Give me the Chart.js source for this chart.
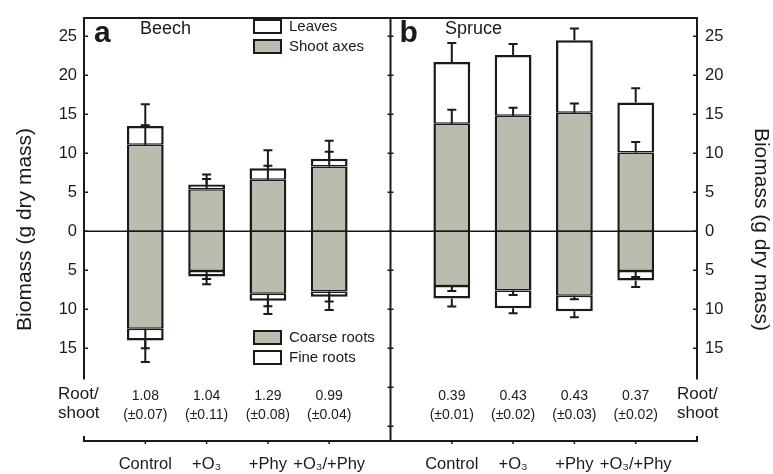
<!DOCTYPE html>
<html>
<head>
<meta charset="utf-8">
<script src="https://cdn.jsdelivr.net/npm/chart.js@4.4.0/dist/chart.umd.min.js"></script>
<style>
  html, body { margin: 0; padding: 0; background: #fff; }
  #wrap { width: 773px; height: 474px; }
</style>
</head>
<body>
<div id="wrap"><canvas id="chart" width="773" height="474"></canvas></div>
<script>
const treatments = ["Control", "+O₃", "+Phy", "+O₃/+Phy"];

// panel a, beech
const beechShoot = [11.1, 5.4, 6.6, 8.3];
const beechLeaves = [2.4, 0.6, 1.5, 1.0];
const beechCoarse = [-12.5, -5.1, -8.0, -7.7];
const beechFine = [-1.5, -0.7, -0.9, -0.7];
const beechShootErr = [2.5, 1.3, 1.8, 1.9];
const beechTotalErr = [2.8, 1.3, 2.3, 2.3];
const beechCoarseErr = [2.5, 1.0, 1.6, 1.3];
const beechRootErr = [2.75, 1.0, 1.7, 1.7];
const beechRatio = ["1.08", "1.04", "1.29", "0.99"];
const beechRatioSE = ["(±0.07)", "(±0.11)", "(±0.08)", "(±0.04)"];

// panel b, spruce
const spruceShoot = [13.8, 14.8, 15.2, 10.1];
const spruceLeaves = [7.9, 7.8, 9.3, 6.4];
const spruceCoarse = [-7.0, -7.6, -8.25, -5.1];
const spruceFine = [-1.6, -2.25, -2.0, -1.2];
const spruceShootErr = [1.8, 1.05, 1.2, 1.35];
const spruceTotalErr = [2.45, 1.4, 1.5, 1.85];
const spruceCoarseErr = [0.65, 0.55, 0.45, 0.75];
const spruceRootErr = [1.05, 0.65, 0.75, 0.85];
const spruceRatio = ["0.39", "0.43", "0.43", "0.37"];
const spruceRatioSE = ["(±0.01)", "(±0.02)", "(±0.03)", "(±0.02)"];

const xPos = [1, 2, 3, 4, 6, 7, 8, 9];
const yTicks = [-15, -10, -5, 0, 5, 10, 15, 20, 25];
const dividerTicks = [-25, -20, -15, -10, -5, 0, 5, 10, 15, 20, 25];

const GRAY = "#bbbbae";
const INK = "#1a1a1a";
const FONT = "'Liberation Sans', Arial, sans-serif";

Chart.defaults.font.family = FONT;
Chart.defaults.color = INK;

function pts(a, b) {
  return a.concat(b).map((v, i) => ({ x: xPos[i], y: v }));
}

function tickLabel(v) {
  const i = v < 5 ? v - 1 : v - 6;
  return treatments[i] || "";
}

const shootAll = beechShoot.concat(spruceShoot);
const leavesAll = beechLeaves.concat(spruceLeaves);
const coarseAll = beechCoarse.concat(spruceCoarse);
const fineAll = beechFine.concat(spruceFine);
const shootErrAll = beechShootErr.concat(spruceShootErr);
const totalErrAll = beechTotalErr.concat(spruceTotalErr);
const coarseErrAll = beechCoarseErr.concat(spruceCoarseErr);
const rootErrAll = beechRootErr.concat(spruceRootErr);

const decor = {
  id: "decor",
  afterDatasetsDraw(chart) {
    const { ctx, chartArea: area, scales: { x, y } } = chart;
    ctx.save();
    ctx.strokeStyle = INK;
    ctx.lineCap = "butt";

    // zero line
    ctx.lineWidth = 1.5;
    ctx.beginPath();
    ctx.moveTo(area.left, y.getPixelForValue(0));
    ctx.lineTo(area.right, y.getPixelForValue(0));
    ctx.stroke();

    // error bars
    ctx.lineWidth = 2;
    function errBar(px, from, to) {
      const a = y.getPixelForValue(from), b = y.getPixelForValue(to);
      ctx.beginPath();
      ctx.moveTo(px, a); ctx.lineTo(px, b);
      ctx.moveTo(px - 4.5, b); ctx.lineTo(px + 4.5, b);
      ctx.stroke();
    }
    xPos.forEach((xv, i) => {
      const px = x.getPixelForValue(xv);
      const top = shootAll[i] + leavesAll[i];
      const bot = coarseAll[i] + fineAll[i];
      errBar(px, shootAll[i], shootAll[i] + shootErrAll[i]);
      errBar(px, top, top + totalErrAll[i]);
      errBar(px, coarseAll[i], coarseAll[i] - coarseErrAll[i]);
      errBar(px, bot, bot - rootErrAll[i]);
    });

    // frame
    const mid = x.getPixelForValue(5);
    const frameEnd = y.getPixelForValue(-19);
    ctx.lineWidth = 2;
    ctx.beginPath();
    ctx.moveTo(area.left, frameEnd);
    ctx.lineTo(area.left, area.top);
    ctx.lineTo(area.right, area.top);
    ctx.lineTo(area.right, frameEnd);
    ctx.moveTo(mid, area.top);
    ctx.lineTo(mid, area.bottom);
    ctx.moveTo(area.left, area.bottom - 5);
    ctx.lineTo(area.left, area.bottom);
    ctx.lineTo(area.right, area.bottom);
    ctx.lineTo(area.right, area.bottom - 5);
    ctx.stroke();

    // tick marks
    ctx.lineWidth = 1.5;
    ctx.beginPath();
    yTicks.forEach(v => {
      const py = y.getPixelForValue(v);
      ctx.moveTo(area.left, py); ctx.lineTo(area.left + 4, py);
      ctx.moveTo(area.right, py); ctx.lineTo(area.right - 4, py);
    });
    dividerTicks.forEach(v => {
      const py = y.getPixelForValue(v);
      ctx.moveTo(mid - 3, py); ctx.lineTo(mid + 3, py);
    });
    xPos.forEach(v => {
      const px = x.getPixelForValue(v);
      ctx.moveTo(px, area.bottom); ctx.lineTo(px, area.bottom + 3);
    });
    ctx.stroke();

    // legends
    function box(bx, by, fill, label) {
      ctx.fillStyle = fill;
      ctx.fillRect(bx, by, 27, 13);
      ctx.lineWidth = 2;
      ctx.strokeRect(bx, by, 27, 13);
      ctx.fillStyle = INK;
      ctx.font = "15px " + FONT;
      ctx.textAlign = "left";
      ctx.textBaseline = "middle";
      ctx.fillText(label, bx + 35, by + 7);
    }
    box(254, 20, "#ffffff", "Leaves");
    box(254, 40, GRAY, "Shoot axes");
    box(254, 331, GRAY, "Coarse roots");
    box(254, 351, "#ffffff", "Fine roots");

    // panel letters and names
    ctx.fillStyle = INK;
    ctx.textAlign = "left";
    ctx.textBaseline = "alphabetic";
    ctx.font = "bold 30px " + FONT;
    ctx.fillText("a", area.left + 10, 42);
    ctx.fillText("b", mid + 9, 42);
    ctx.font = "18px " + FONT;
    ctx.fillText("Beech", 140, 34);
    ctx.fillText("Spruce", 445, 34);

    // root/shoot rows
    ctx.textBaseline = "middle";
    ctx.font = "17px " + FONT;
    ctx.fillText("Root/", 58, 394);
    ctx.fillText("shoot", 58, 413);
    ctx.fillText("Root/", 677, 394);
    ctx.fillText("shoot", 677, 413);
    ctx.textAlign = "center";
    ctx.font = "14px " + FONT;
    const ratios = beechRatio.concat(spruceRatio);
    const ratioSE = beechRatioSE.concat(spruceRatioSE);
    xPos.forEach((v, i) => {
      const px = x.getPixelForValue(v);
      ctx.fillText(ratios[i], px, 396);
      ctx.fillText(ratioSE[i], px, 415);
    });
    ctx.restore();
  }
};

const barBase = { grouped: false, barPercentage: 0.6, categoryPercentage: 1, borderColor: INK, borderSkipped: false, yAxisID: "y" };

new Chart(document.getElementById("chart"), {
  type: "bar",
  data: {
    datasets: [
      Object.assign({ label: "Shoot axes", data: pts(beechShoot, spruceShoot), backgroundColor: GRAY,
        borderWidth: { top: 1.5, bottom: 1, left: 2.5, right: 2.5 } }, barBase),
      Object.assign({ label: "Leaves", data: pts(beechLeaves, spruceLeaves), backgroundColor: "#ffffff",
        borderWidth: { top: 2.5, bottom: 1.5, left: 2.5, right: 2.5 } }, barBase),
      Object.assign({ label: "Coarse roots", data: pts(beechCoarse, spruceCoarse), backgroundColor: GRAY,
        borderWidth: { top: 1, bottom: 1.5, left: 2.5, right: 2.5 } }, barBase),
      Object.assign({ label: "Fine roots", data: pts(beechFine, spruceFine), backgroundColor: "#ffffff",
        borderWidth: { top: 1.5, bottom: 2.5, left: 2.5, right: 2.5 } }, barBase)
    ]
  },
  options: {
    responsive: false,
    animation: false,
    devicePixelRatio: 1,
    layout: { padding: { top: 13, bottom: 0, left: 0, right: 0 } },
    plugins: { legend: { display: false }, tooltip: { enabled: false } },
    scales: {
      x: {
        type: "linear", min: 0, max: 10, offset: false,
        grid: { display: false, drawTicks: false, offset: false }, border: { display: false },
        afterBuildTicks: s => { s.ticks = xPos.map(v => ({ value: v })); },
        afterFit: s => { s.height = 33; },
        ticks: { callback: v => tickLabel(v), autoSkip: false, maxRotation: 0, padding: 14,
          font: { size: 16.5 }, color: INK }
      },
      y: {
        stacked: true, position: "left", min: -26.88, max: 27.36,
        grid: { display: false, drawTicks: false }, border: { display: false },
        afterBuildTicks: s => { s.ticks = yTicks.map(v => ({ value: v })); },
        afterFit: s => { s.width = 84; },
        ticks: { callback: v => Math.abs(v), padding: 7, font: { size: 16.5 }, color: INK },
        title: { display: true, text: "Biomass (g dry mass)", font: { size: 21 }, padding: { top: 13, bottom: 0 }, color: INK }
      },
      y2: {
        position: "right", min: -26.88, max: 27.36,
        grid: { display: false, drawTicks: false }, border: { display: false },
        afterBuildTicks: s => { s.ticks = yTicks.map(v => ({ value: v })); },
        afterFit: s => { s.width = 76; },
        ticks: { callback: v => Math.abs(v), padding: 8, font: { size: 16.5 }, color: INK },
        title: { display: true, text: "Biomass (g dry mass)", font: { size: 21 }, padding: { top: 0, bottom: 0 }, color: INK }
      }
    }
  },
  plugins: [decor]
});
</script>
</body>
</html>
